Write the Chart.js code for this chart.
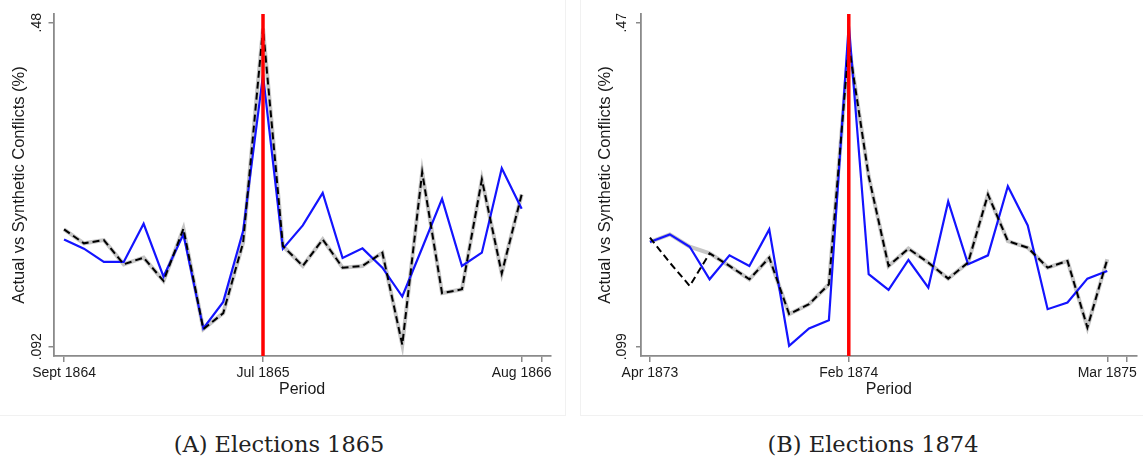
<!DOCTYPE html>
<html>
<head>
<meta charset="utf-8">
<script src="https://cdn.jsdelivr.net/npm/chart.js@4.4.1/dist/chart.umd.min.js"></script>
<style>
    body { margin: 0; background: #fff; width: 1143px; height: 459px; overflow: hidden; position: relative; }
    .painel { position: absolute; top: 0; height: 420px; }
    #painelA { left: 0; width: 571px; }
    #painelB { left: 571px; width: 572px; }
    .moldura { position: absolute; top: 0; height: 415px; border-bottom: 1px solid #f1f1f1; }
    #molduraA { left: 0; width: 565px; border-right: 1px solid #f1f1f1; }
    #molduraB { left: 580px; width: 563px; border-left: 1px solid #f1f1f1; }
    .legenda { position: absolute; top: 431px; width: 400px; text-align: center; font-family: "DejaVu Serif", serif; font-size: 22.5px; line-height: 26px; color: #222; }
    #legendaA { left: 79px; }
    #legendaB { left: 673px; }
</style>
</head>
<body>
<div class="moldura" id="molduraA"></div>
<div class="moldura" id="molduraB"></div>
<div class="painel" id="painelA"><canvas id="GraficoEleicoes1865" width="571" height="420"></canvas></div>
<div class="painel" id="painelB"><canvas id="GraficoEleicoes1874" width="572" height="420"></canvas></div>
<div class="legenda" id="legendaA">(A) Elections 1865</div>
<div class="legenda" id="legendaB">(B) Elections 1874</div>

<script>
// Eleicoes 1865: Sept 1864 .. Aug 1866 (24 meses), eleicao em Jul 1865
var ticksXA = [0, 10, 23, 24];
var rotulosXA = ['Sept 1864', 'Jul 1865', 'Aug 1866', ''];
var ticksYA = [0.092, 0.48];
var rotulosYA = ['.092', '.48'];
var eleicaoA = 10;
var realA = [0.2205, 0.2094, 0.1935, 0.1935, 0.2392, 0.1760, 0.2265, 0.1139, 0.1457, 0.2305, 0.4175, 0.2094,
             0.2373, 0.2763, 0.1983, 0.2098, 0.1867, 0.1521, 0.2102, 0.2691, 0.1887, 0.2046, 0.3057, 0.2571];
var sinteticoA = [0.2325, 0.2158, 0.2197, 0.1907, 0.1987, 0.1708, 0.2333, 0.1131, 0.1322, 0.2166, 0.4732, 0.2126,
                  0.1887, 0.2205, 0.1867, 0.1887, 0.2046, 0.0944, 0.3009, 0.1561, 0.1608, 0.2922, 0.1799, 0.2743];
var faixaA = sinteticoA;

// Eleicoes 1874: Apr 1873 .. Mar 1875 (24 meses), eleicao em Feb 1874
var ticksXB = [0, 10, 23, 24];
var rotulosXB = ['Apr 1873', 'Feb 1874', 'Mar 1875', ''];
var ticksYB = [0.099, 0.47];
var rotulosYB = ['.099', '.47'];
var eleicaoB = 10;
var realB = [0.2189, 0.2276, 0.2135, 0.1762, 0.2036, 0.1915, 0.2333, 0.1001, 0.1199, 0.1294, 0.4685, 0.1820,
             0.1641, 0.1983, 0.1667, 0.2653, 0.1934, 0.2036, 0.2828, 0.2379, 0.1420, 0.1496, 0.1770, 0.1858];
var sinteticoB = [0.2238, 0.1953, 0.1686, 0.2059, 0.1915, 0.1762, 0.2010, 0.1363, 0.1477, 0.1705, 0.4445, 0.2942,
                  0.1915, 0.2113, 0.1953, 0.1770, 0.1953, 0.2733, 0.2200, 0.2124, 0.1896, 0.1972, 0.1211, 0.1991];
var faixaB = [0.2189, 0.2276, 0.2135, 0.2059, 0.1915, 0.1762, 0.2010, 0.1363, 0.1477, 0.1705, 0.4445, 0.2942,
              0.1915, 0.2113, 0.1953, 0.1770, 0.1953, 0.2733, 0.2200, 0.2124, 0.1896, 0.1972, 0.1211, 0.1991];

var corEixo = '#8a8a8a';
var corTexto = '#1a1a1a';

function paraPontos(valores)
{
    return valores.map(function (v, i) { return { x: i, y: v }; });
}

function gerarGrafico(idCanvas, cfg)
{
    var data = {
        datasets: [
            {
                label: 'Election',
                data: [{ x: cfg.eleicao, y: cfg.yMin }, { x: cfg.eleicao, y: cfg.yMax }],
                borderColor: 'rgb(255,0,0)',
                borderWidth: 3.5
            },
            {
                label: 'Synthetic',
                data: paraPontos(cfg.sintetico),
                borderColor: '#000000',
                borderWidth: 2,
                borderDash: [7, 4]
            },
            {
                label: 'Actual',
                data: paraPontos(cfg.real),
                borderColor: 'rgb(20,20,255)',
                borderWidth: 2.2
            },
            {
                label: 'Band',
                data: paraPontos(cfg.faixa),
                borderColor: 'rgba(150,150,150,0.55)',
                borderWidth: 4
            }
        ]
    };

    var ctx = document.getElementById(idCanvas);
    var grafico = new Chart(ctx, {
        type: 'line',
        data: data,
        options: {
            responsive: false,
            animation: false,
            devicePixelRatio: 1,
            layout: { padding: { top: 14, right: cfg.padDireita, bottom: 0, left: 0 } },
            elements: { point: { radius: 0 }, line: { tension: 0, fill: false } },
            plugins: { legend: { display: false }, tooltip: { enabled: false } },
            scales: {
                x: {
                    type: 'linear',
                    min: cfg.xMin,
                    max: cfg.xMax,
                    afterBuildTicks: function (eixo) { eixo.ticks = cfg.ticksX.map(function (v) { return { value: v }; }); },
                    afterFit: function (eixo) { eixo.height = 64; eixo.paddingLeft = 0; eixo.paddingRight = 0; },
                    ticks: {
                        callback: function (v, i) { return cfg.rotulosX[i]; },
                        autoSkip: false, maxRotation: 0, minRotation: 0, padding: 3,
                        color: corTexto, font: { family: 'Liberation Sans', size: 14 }
                    },
                    grid: { drawOnChartArea: false, drawTicks: true, tickLength: 6, color: corEixo, lineWidth: 1.5 },
                    border: { display: true, color: corEixo, width: 1.8 },
                    title: {
                        display: true, text: 'Period', color: corTexto,
                        font: { family: 'Liberation Sans', size: 16 }, padding: { top: 0, bottom: 21 }
                    }
                },
                y: {
                    type: 'linear',
                    min: cfg.yMin,
                    max: cfg.yMax,
                    afterBuildTicks: function (eixo) { eixo.ticks = cfg.ticksY.map(function (v) { return { value: v }; }); },
                    afterFit: function (eixo) { eixo.width = cfg.larguraY; eixo.paddingTop = 0; eixo.paddingBottom = 0; },
                    ticks: {
                        callback: function (v, i) { return cfg.rotulosY[i]; },
                        minRotation: 90, maxRotation: 90, crossAlign: 'center', padding: cfg.padRotuloY,
                        color: corTexto, font: { family: 'Liberation Sans', size: 14 }
                    },
                    grid: { drawOnChartArea: false, drawTicks: true, tickLength: 5, color: corEixo, lineWidth: 1.5 },
                    border: { display: true, color: corEixo, width: 1.8 },
                    title: {
                        display: true, text: 'Actual vs Synthetic Conflicts (%)', color: corTexto,
                        font: { family: 'Liberation Sans', size: 16.5 }, padding: { top: cfg.padTituloY, bottom: 0 }
                    }
                }
            }
        }
    });
    return grafico;
}

gerarGrafico('GraficoEleicoes1865', {
    real: realA, sintetico: sinteticoA, faixa: faixaA, eleicao: eleicaoA,
    ticksX: ticksXA, rotulosX: rotulosXA, ticksY: ticksYA, rotulosY: rotulosYA,
    xMin: -0.53, xMax: 24.46, yMin: 0.0809, yMax: 0.4904,
    larguraY: 53.5, padDireita: 20.3, padRotuloY: -2, padTituloY: 10
});

gerarGrafico('GraficoEleicoes1874', {
    real: realB, sintetico: sinteticoB, faixa: faixaB, eleicao: eleicaoB,
    ticksX: ticksXB, rotulosX: rotulosXB, ticksY: ticksYB, rotulosY: rotulosYB,
    xMin: -0.45, xMax: 24.48, yMin: 0.0884, yMax: 0.4799,
    larguraY: 70, padDireita: 6.3, padRotuloY: 0, padTituloY: 25
});
</script>
</body>
</html>
